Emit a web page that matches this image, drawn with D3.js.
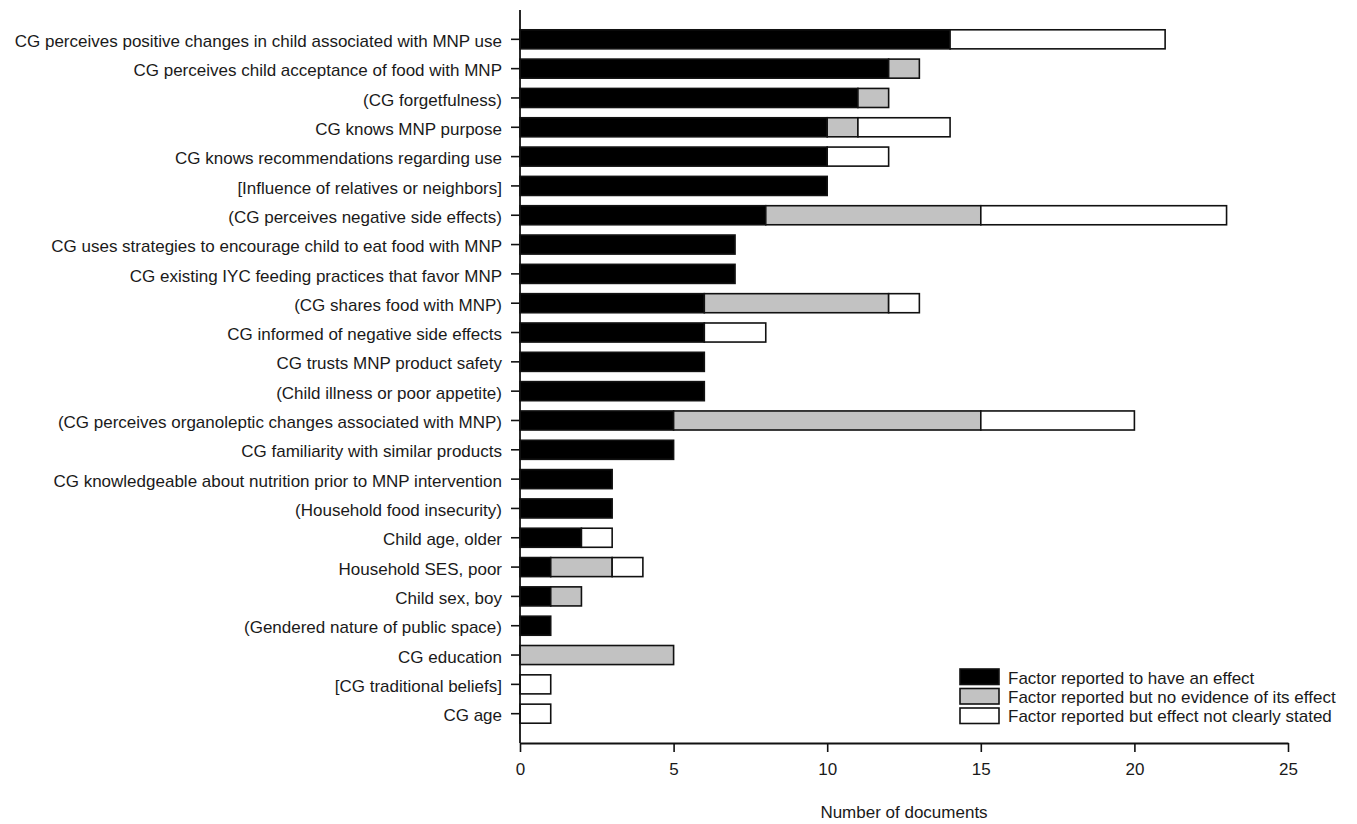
<!DOCTYPE html>
<html>
<head>
<meta charset="utf-8">
<script src="https://cdn.jsdelivr.net/npm/d3@7"></script>
<style>
  html, body { margin: 0; padding: 0; background: #fff; }
  svg { display: block; }
  text { font-family: "Liberation Sans", Arial, sans-serif; fill: #1a1a1a; }
</style>
</head>
<body>
<svg id="chart" width="1357" height="824"></svg>
<script>
const categories = [
  "CG perceives positive changes in child associated with MNP use",
  "CG perceives child acceptance of food with MNP",
  "(CG forgetfulness)",
  "CG knows MNP purpose",
  "CG knows recommendations regarding use",
  "[Influence of relatives or neighbors]",
  "(CG perceives negative side effects)",
  "CG uses strategies to encourage child to eat food with MNP",
  "CG existing IYC feeding practices that favor MNP",
  "(CG shares food with MNP)",
  "CG informed of negative side effects ",
  "CG trusts MNP product safety",
  "(Child illness or poor appetite)",
  "(CG perceives organoleptic changes associated with MNP)",
  "CG familiarity with similar products",
  "CG knowledgeable about nutrition prior to MNP intervention",
  "(Household food insecurity)",
  "Child age, older",
  "Household SES, poor",
  "Child sex, boy",
  "(Gendered nature of public space)",
  "CG education",
  "[CG traditional beliefs]",
  "CG age"
];
const effect      = [14, 12, 11, 10, 10, 10, 8, 7, 7, 6, 6, 6, 6, 5, 5, 3, 3, 2, 1, 1, 1, 0, 0, 0];
const noEvidence  = [0, 1, 1, 1, 0, 0, 7, 0, 0, 6, 0, 0, 0, 10, 0, 0, 0, 0, 2, 1, 0, 5, 0, 0];
const notStated   = [7, 0, 0, 3, 2, 0, 8, 0, 0, 1, 2, 0, 0, 5, 0, 0, 0, 1, 1, 0, 0, 0, 1, 1];
const seriesNames = ["Factor reported to have an effect", "Factor reported but no evidence of its effect", "Factor reported but effect not clearly stated"];
const xTicks = [0, 5, 10, 15, 20, 25];
const xTitle = "Number of documents";

const colors = ["#000000", "#c2c2c2", "#ffffff"];
const FS = 17;
const svg = d3.select("#chart");
const mLeft = 520, mRight = 1288, mTop = 10, mBottom = 743;

const x = d3.scaleLinear().domain([0, 25]).range([mLeft, mRight]);
const y = d3.scaleBand().domain(categories).range([mTop, mBottom]).paddingInner(0.35).paddingOuter(0.675);

const rows = categories.map((c, i) => ({cat: c, vals: [effect[i], noEvidence[i], notStated[i]]}));
const segs = [];
rows.forEach(r => {
  let acc = 0;
  r.vals.forEach((v, k) => {
    if (v > 0) segs.push({cat: r.cat, x0: acc, x1: acc + v, k});
    acc += v;
  });
});

svg.append("g").selectAll("rect").data(segs).join("rect")
  .attr("x", d => x(d.x0))
  .attr("y", d => y(d.cat))
  .attr("width", d => x(d.x1) - x(d.x0))
  .attr("height", y.bandwidth())
  .attr("fill", d => colors[d.k])
  .attr("stroke", "#111")
  .attr("stroke-width", 1.6);

// y axis
const yAxis = svg.append("g").attr("transform", `translate(${mLeft},0)`)
  .call(d3.axisLeft(y).tickSize(9).tickPadding(9).tickSizeOuter(0));
yAxis.select(".domain").remove();
svg.append("line").attr("x1", mLeft).attr("x2", mLeft).attr("y1", mTop).attr("y2", mBottom)
  .attr("stroke", "#111").attr("stroke-width", 1.8);
yAxis.selectAll(".tick line").attr("stroke", "#111").attr("stroke-width", 1.6);
yAxis.selectAll(".tick text").attr("font-size", FS).attr("dy", "0.45em")
  .style("font-family", '"Liberation Sans", Arial, sans-serif').attr("fill", "#1a1a1a");

// x axis
const xAxis = svg.append("g").attr("transform", `translate(0,${mBottom})`)
  .call(d3.axisBottom(x).tickValues(xTicks).tickSize(9).tickPadding(11).tickSizeOuter(0));
xAxis.select(".domain").attr("stroke", "#111").attr("stroke-width", 1.8);
xAxis.selectAll(".tick line").attr("stroke", "#111").attr("stroke-width", 1.6);
xAxis.selectAll(".tick text").attr("font-size", FS)
  .style("font-family", '"Liberation Sans", Arial, sans-serif').attr("fill", "#1a1a1a");

svg.append("text").attr("x", (mLeft + mRight) / 2).attr("y", 818)
  .attr("text-anchor", "middle").attr("font-size", FS).text(xTitle);

// legend
const lg = svg.append("g");
seriesNames.forEach((name, i) => {
  lg.append("rect").attr("x", 960).attr("y", 669 + i * 19.5).attr("width", 39).attr("height", 15.5)
    .attr("fill", colors[i]).attr("stroke", "#111").attr("stroke-width", 1.6);
  lg.append("text").attr("x", 1008).attr("y", 683.5 + i * 19).attr("font-size", FS).text(name);
});
</script>
</body>
</html>
